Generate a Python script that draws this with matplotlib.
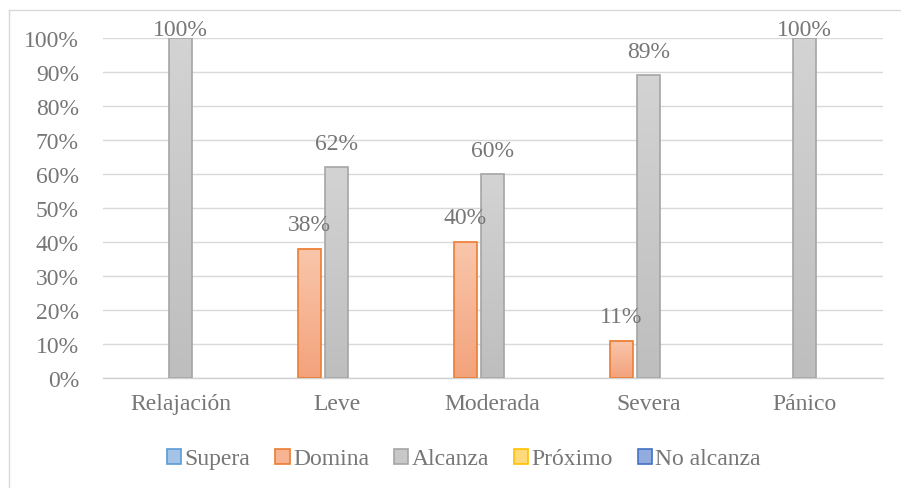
import numpy as np
import matplotlib
matplotlib.use("Agg")
import matplotlib.pyplot as plt
from matplotlib.lines import Line2D
from matplotlib.patches import Patch
from matplotlib.colors import LinearSegmentedColormap

categories = ["Relajación", "Leve", "Moderada", "Severa", "Pánico"]
series_names = ["Supera", "Domina", "Alcanza", "Próximo", "No alcanza"]
supera = [0, 0, 0, 0, 0]
domina = [0, 0.38, 0.40, 0.11, 0]
alcanza = [1.00, 0.62, 0.60, 0.89, 1.00]
proximo = [0, 0, 0, 0, 0]
no_alcanza = [0, 0, 0, 0, 0]
yticks = [0, 0.1, 0.2, 0.3, 0.4, 0.5, 0.6, 0.7, 0.8, 0.9, 1.0]
ytick_labels = ["0%", "10%", "20%", "30%", "40%", "50%", "60%", "70%", "80%", "90%", "100%"]

series_values = [supera, domina, alcanza, proximo, no_alcanza]
fills_top = ["#B4D0EC", "#F9C6AB", "#D3D3D3", "#FFE29A", "#A9BDE6"]
fills_bot = ["#8FB8E2", "#F3A37C", "#BEBEBE", "#FFD35C", "#7F9CD8"]
edges = ["#5B9BD5", "#ED7D31", "#A5A5A5", "#FFC000", "#4472C4"]
legend_fill = ["#A3C4E7", "#F6B493", "#C8C8C8", "#FFDA7A", "#93ACDF"]

plt.rcParams["font.family"] = ["Liberation Serif", "DejaVu Serif"]
text_color = "#767676"
fs = 17

fig = plt.figure(figsize=(9.01, 4.89), dpi=100)
W, H = 901, 489
ax = fig.add_axes([102.5 / W, 1 - 379 / H, 780 / W, 340 / H])

x = np.arange(len(categories))
bw = 0.147
step = 0.176
for i, vals in enumerate(series_values):
    cmap = LinearSegmentedColormap.from_list("g%d" % i, [fills_bot[i], fills_top[i]])
    grad = np.linspace(0, 1, 64).reshape(-1, 1)
    for j, v in enumerate(vals):
        if v <= 0:
            continue
        xc = x[j] + (i - 2) * step
        ax.imshow(grad, extent=[xc - bw / 2, xc + bw / 2, 0, v], origin="lower",
                  aspect="auto", cmap=cmap, zorder=2, interpolation="bilinear")
        ax.bar(xc, v, width=bw, facecolor="none", edgecolor=edges[i],
               linewidth=1.2, zorder=3)
        off = 9 if v >= 1 else 24
        ax.annotate(f"{round(v * 100):d}%", (xc, v), xytext=(0, off * 72 / 100),
                    textcoords="offset points", ha="center", va="center",
                    fontsize=fs, color=text_color, zorder=4, annotation_clip=False)

ax.set_xlim(-0.5, len(categories) - 0.5)
ax.set_ylim(0, 1)
ax.set_yticks(yticks)
ax.set_yticklabels(ytick_labels)
ax.set_xticks(x)
ax.set_xticklabels(categories)
ax.tick_params(axis="y", length=0, pad=17, labelsize=fs, labelcolor=text_color)
ax.tick_params(axis="x", length=0, pad=11, labelsize=fs, labelcolor=text_color)
ax.grid(axis="y", color="#D9D9D9", linewidth=1.0, zorder=0)
ax.set_axisbelow(True)
for s in ["left", "right", "top"]:
    ax.spines[s].set_visible(False)
ax.spines["bottom"].set_color("#D0D0D0")
ax.spines["bottom"].set_linewidth(1.0)
ax.set_facecolor("none")

handles = [Patch(facecolor=legend_fill[i], edgecolor=edges[i], linewidth=1.2)
           for i in range(len(series_names))]
leg = fig.legend(handles, series_names, loc="center", bbox_to_anchor=(464 / W, 1 - 460 / H),
                 ncol=5, frameon=False, fontsize=fs, handlelength=0.6, handleheight=0.6,
                 handletextpad=0.15, columnspacing=1.05, borderaxespad=0)
for t in leg.get_texts():
    t.set_color(text_color)

fig.add_artist(Line2D([8.5 / W, 8.5 / W], [0, 1 - 10.5 / H], transform=fig.transFigure,
                      color="#D9D9D9", linewidth=1.0))
fig.add_artist(Line2D([8.5 / W, 1], [1 - 10.5 / H, 1 - 10.5 / H], transform=fig.transFigure,
                      color="#D9D9D9", linewidth=1.0))

fig.savefig("out.png", dpi=100)
